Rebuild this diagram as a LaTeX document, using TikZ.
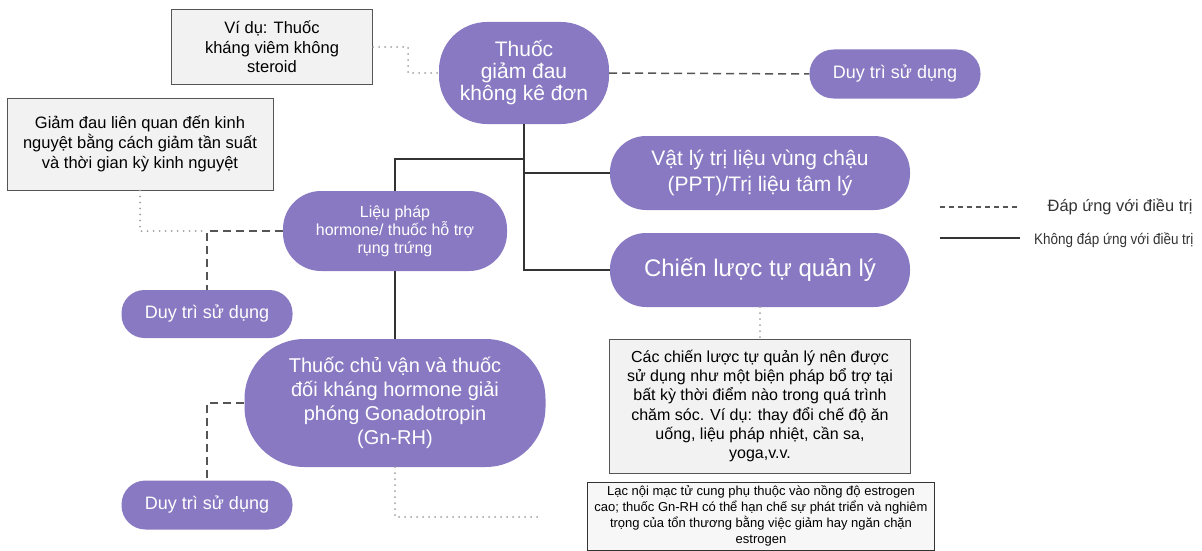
\documentclass[tikz,border=0pt]{standalone}
\usepackage{fontspec}
\setmainfont{Liberation Sans}
\newfontfamily\narrowfont[FakeStretch=0.88]{Liberation Sans}
\usepackage{tikz}
\usetikzlibrary{calc}
\definecolor{tpurple}{RGB}{137, 121, 194}
\definecolor{tbox}{RGB}{242, 242, 242}
\definecolor{tline}{RGB}{85, 85, 85}
\definecolor{tdot}{RGB}{160, 160, 160}

\tikzset{
  pill/.style={fill=tpurple, text=white, align=center, inner sep=0pt},
  notebox/.style={fill=tbox, draw=tline, line width=1pt, align=center, inner sep=0pt},
  yesline/.style={draw=tline, line width=1.5pt, dash pattern=on 8pt off 5pt},
  noline/.style={draw=black!80, line width=1.5pt},
  noteline/.style={draw=tdot, line width=2pt, line cap=round, dash pattern=on 0pt off 6pt},
}

\begin{document}
\begin{tikzpicture}[x=1pt, y=-1pt]
\useasboundingbox (0,0) rectangle (1202,551);

% Over-the-counter pain relief
\node[pill, minimum width=170pt, minimum height=102pt, rounded corners=48pt,
  font=\fontsize{21}{22}\selectfont] (otc) at (524,73) {Thuốc\\giảm đau\\không kê đơn};
\node[notebox, minimum width=201pt, minimum height=74pt,
  font=\fontsize{16.5}{19.5}\selectfont] (exA) at (272,47) {Ví dụ: Thuốc\\kháng viêm không\\steroid};
\node[pill, minimum width=171pt, minimum height=49pt, rounded corners=24pt,
  font=\fontsize{18}{20}\selectfont] (dt1) at (895,74) {Duy trì sử dụng};

% Hormone therapy
\node[notebox, minimum width=266pt, minimum height=92pt,
  font=\fontsize{16.5}{20}\selectfont] (exB) at (140,144) {Giảm đau liên quan đến kinh\\nguyệt bằng cách giảm tần suất\\và thời gian kỳ kinh nguyệt};
\node[pill, minimum width=224pt, minimum height=80pt, rounded corners=38pt,
  font=\fontsize{16}{18}\selectfont] (horm) at (395,231) {Liệu pháp\\hormone/ thuốc hỗ trợ\\rụng trứng};
\node[pill, minimum width=171pt, minimum height=48pt, rounded corners=23pt,
  font=\fontsize{18}{20}\selectfont] (dt2) at (207,314) {Duy trì sử dụng};

% Physiotherapy and self-management
\node[pill, minimum width=300pt, minimum height=74pt, rounded corners=36pt,
  font=\fontsize{21}{26}\selectfont] (ppt) at (760,173) {Vật lý trị liệu vùng chậu\\(PPT)/Trị liệu tâm lý};
\node[pill, minimum width=300pt, minimum height=74pt, rounded corners=36pt,
  font=\fontsize{24}{26}\selectfont] (self) at (760,270) {Chiến lược tự quản lý};
\node[notebox, minimum width=301pt, minimum height=134pt,
  font=\fontsize{16}{19.2}\selectfont] (exC) at (760,406) {Các chiến lược tự quản lý nên được\\sử dụng như một biện pháp bổ trợ tại\\bất kỳ thời điểm nào trong quá trình\\chăm sóc. Ví dụ: thay đổi chế độ ăn\\uống, liệu pháp nhiệt, cần sa,\\yoga,v.v.};

% Gn-RH agonists and antagonists
\node[pill, minimum width=301pt, minimum height=128pt, rounded corners=60pt,
  font=\fontsize{20}{24}\selectfont] (gnrh) at (395,403) {Thuốc chủ vận và thuốc\\đối kháng hormone giải\\phóng Gonadotropin\\(Gn-RH)};
\node[pill, minimum width=171pt, minimum height=49pt, rounded corners=24pt,
  font=\fontsize{18}{20}\selectfont] (dt3) at (207,505) {Duy trì sử dụng};
\node[notebox, draw=black!80, minimum width=347pt, minimum height=68pt, fill=tbox!60,
  font=\fontsize{13}{15.8}\selectfont] (exD) at (761,516) {Lạc nội mạc tử cung phụ thuộc vào nồng độ estrogen\\cao; thuốc Gn-RH có thể hạn chế sự phát triển và nghiêm\\trọng của tổn thương bằng việc giảm hay ngăn chặn\\estrogen};

% Tree of non-response
\coordinate (hub) at ($(otc.south)+(0,35)$);
\draw[noline] (otc.south) |- (self.west);
\draw[noline] (otc.south |- ppt.west) -- (ppt.west);
\draw[noline, line width=2pt] (hub) -| (horm.north);
\draw[noline] (horm.south) -- (gnrh.north);

% Response to treatment
\draw[yesline] (otc.east) -- (dt1.west);
\draw[yesline] (horm.west) -| (dt2.north);
\draw[yesline] (gnrh.west) -| (dt3.north);

% Notes
\coordinate (gend) at (543,517);
\draw[noteline] (exA.east) -- ++(35,0) |- (otc.west);
\draw[noteline] (exB.south) |- (dt2.north |- horm.west);
\draw[noteline] (self.south) -- (exC.north);
\draw[noteline] (gnrh.south) |- (gend);

% Legend
\coordinate (lgA) at (940,207);
\coordinate (lgB) at (940,238);
\draw[draw=tline, line width=1.5pt, dash pattern=on 5pt off 4pt] (lgA) -- ++(80,0);
\draw[noline] (lgB) -- ++(80,0);
\node[anchor=east, text=black!80, font=\fontsize{16.4}{18}\selectfont] (lgyes) at (1196,207) {Đáp ứng với điều trị};
\node[anchor=east, text=black!80, font=\narrowfont\fontsize{15.3}{17}\selectfont] (lgno) at (1197,240) {Không đáp ứng với điều trị};
\end{tikzpicture}
\end{document}
